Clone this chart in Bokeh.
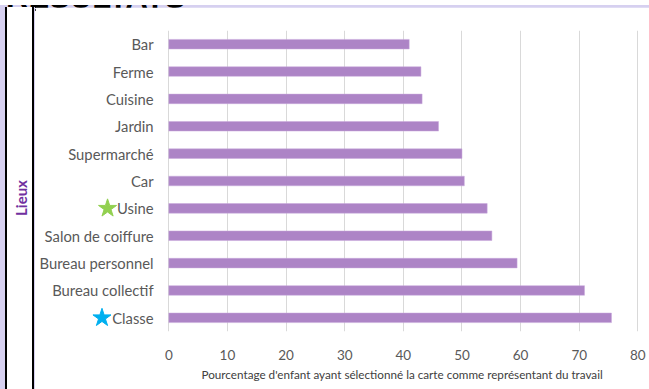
from bokeh.plotting import figure
from bokeh.models import Range1d, FactorRange, Title, Div
from bokeh.layouts import row, column
from bokeh.core.properties import value
from bokeh.embed import file_html
from bokeh.resources import INLINE

categories = ["Bar", "Ferme", "Cuisine", "Jardin", "Supermarché", "Car", "Usine",
              "Salon de coiffure", "Bureau personnel", "Bureau collectif", "Classe"]
values = [41.0, 43.0, 43.2, 46.0, 50.0, 50.4, 54.3, 55.1, 59.4, 70.9, 75.5]
x_ticks = [0, 10, 20, 30, 40, 50, 60, 70, 80]
star_cats = ["Usine", "Classe"]
star_colors = ["#92D050", "#00B0F0"]
star_pos = [-10.45, -11.4]
heading = "RÉSULTATS"
y_title = "Lieux"
x_title = "Pourcentage d'enfant ayant sélectionné la carte comme représentant du travail"

FONT = "Lato"
LAV = "#D6D0F0"
W, TOP_H, BODY_H, LEFT_W = 649, 7, 382, 35

# top strip: cut-off heading on lavender, black frame line
top = Div(
    text=('<div style="position:relative;width:%dpx;height:%dpx;background:%s;overflow:hidden;">'
          '<div style="position:absolute;left:6px;bottom:-1px;font-family:\'Liberation Sans\';'
          'font-weight:bold;font-size:31px;line-height:1;color:black;white-space:nowrap;">%s</div>'
          '<div style="position:absolute;left:5px;top:4px;width:%dpx;height:2px;background:black;"></div>'
          '<div style="position:absolute;left:34px;top:6px;width:%dpx;height:1px;background:white;"></div>'
          '</div>') % (W, TOP_H, LAV, heading, W - 5, W - 34),
    width=W, height=TOP_H, styles={"margin": "0", "padding": "0"})

# left strip: lavender margin, black frame lines, rotated "Lieux"
left = Div(
    text=('<div style="position:relative;width:%dpx;height:%dpx;background:%s;overflow:hidden;">'
          '<div style="position:absolute;left:5px;top:0;width:29px;height:%dpx;background:white;'
          'border-left:2px solid black;border-right:2px solid black;box-sizing:border-box;"></div>'
          '<div style="position:absolute;left:22px;top:191px;transform:translate(-50%%,-50%%) rotate(-90deg);'
          'color:#7030A0;font-family:Lato;font-weight:bold;font-size:15px;white-space:nowrap;">%s</div>'
          '</div>') % (LEFT_W, BODY_H, LAV, BODY_H, y_title),
    width=LEFT_W, height=BODY_H, styles={"margin": "0", "padding": "0"})

p = figure(frame_width=605, frame_height=301,
           x_range=Range1d(-22.74, 80.45),
           y_range=FactorRange(factors=list(reversed(categories))),
           output_backend="svg", toolbar_location=None,
           min_border_left=0, min_border_top=23, min_border_right=9, min_border_bottom=20,
           outline_line_color=None)

p.hbar(y=categories, left=0, right=values, height=0.35,
       fill_color="#AD84C6", line_color="#C9A9DC", line_width=0.5)

# category labels
p.text(x=[-2.6] * len(categories), y=categories, text=categories,
       text_align="right", text_baseline="middle",
       text_color="#595959", text_font=value(FONT), text_font_size="14.8px")

# stars
p.scatter(x=star_pos, y=star_cats, marker="star", size=19,
          fill_color=star_colors, line_color=star_colors)

p.yaxis.visible = False
p.ygrid.grid_line_color = None
p.xgrid.grid_line_color = "#D9D9D9"
p.xgrid.grid_line_width = 1
p.xaxis.ticker = x_ticks
p.xaxis.axis_line_color = None
p.xaxis.major_tick_line_color = None
p.xaxis.minor_tick_line_color = None
p.xaxis.major_label_text_color = "#595959"
p.xaxis.major_label_text_font = FONT
p.xaxis.major_label_text_font_size = "13.5px"
p.xaxis.major_label_standoff = 12

p.add_layout(Title(text=x_title, align="left", offset=166, standoff=4,
                   text_font=FONT, text_font_style="normal",
                   text_font_size="11.7px", text_color="#404040"), "below")

layout = column(top, row(left, p, spacing=0), spacing=0)
open("out.html", "w").write(file_html(layout, INLINE))
